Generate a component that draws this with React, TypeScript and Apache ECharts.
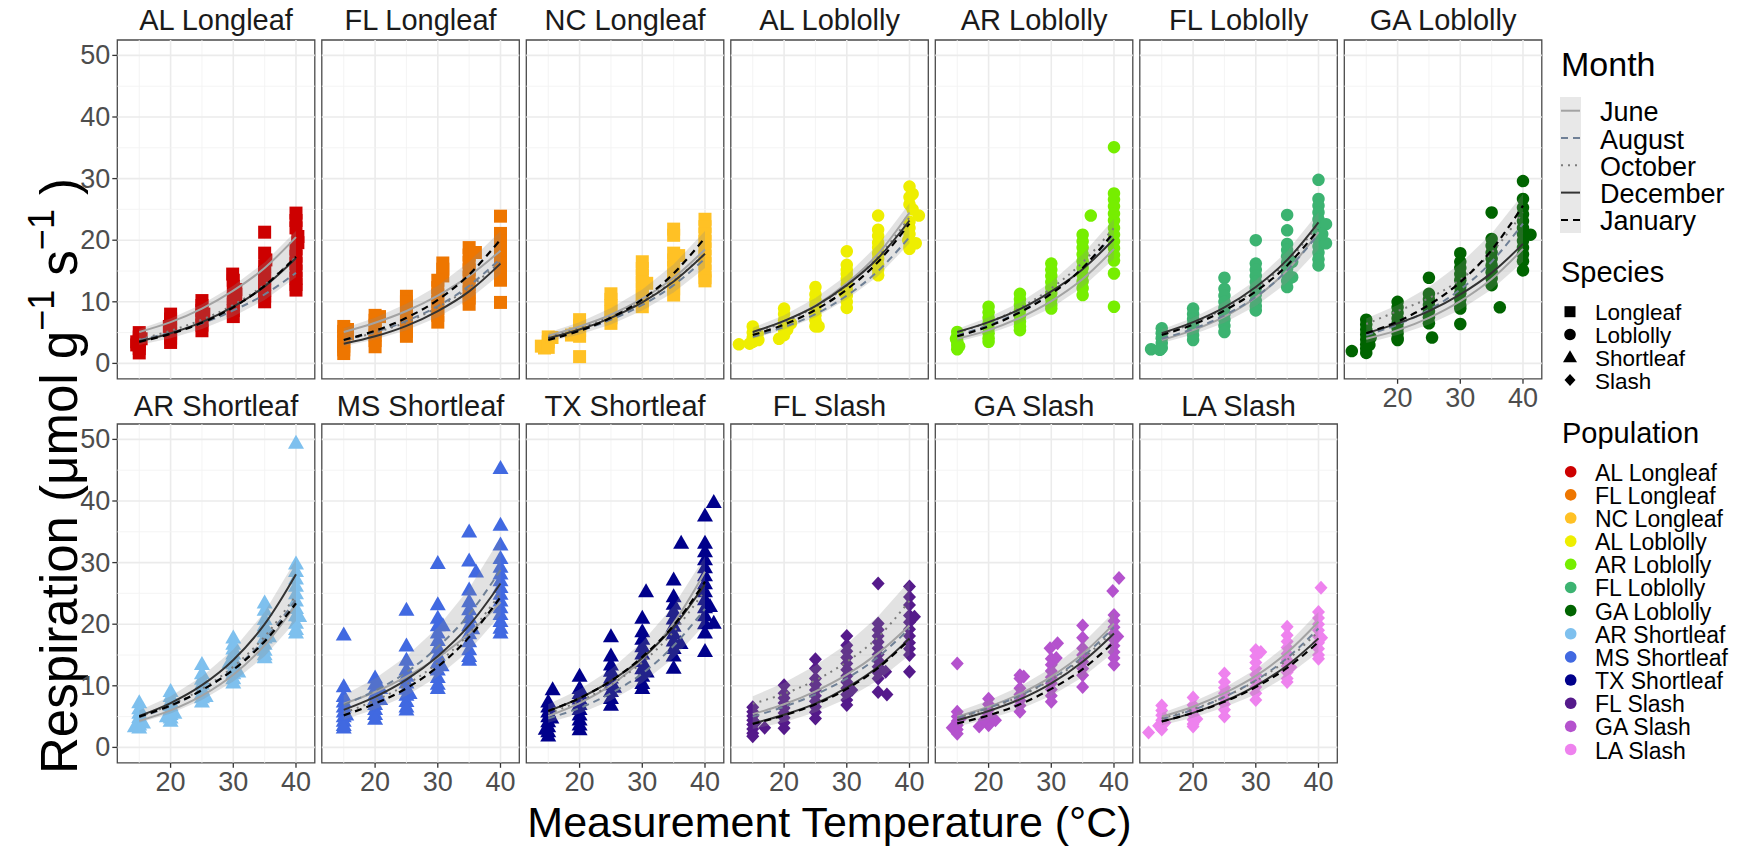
import React, { useEffect, useRef } from "react";
import * as echarts from "echarts";

// ---------- data ----------
const PANELS = [
  "AL Longleaf", "FL Longleaf", "NC Longleaf", "AL Loblolly", "AR Loblolly", "FL Loblolly", "GA Loblolly",
  "AR Shortleaf", "MS Shortleaf", "TX Shortleaf", "FL Slash", "GA Slash", "LA Slash",
];
const SPECIES = ["Longleaf", "Loblolly", "Shortleaf", "Slash"];
const PANEL_SPECIES = [0, 0, 0, 1, 1, 1, 1, 2, 2, 2, 3, 3, 3];
const POP_COLORS = [
  "#CD0000", "#EE7600", "#FFC125", "#EEEE00", "#76EE00", "#3CB371", "#006400",
  "#7EC0EE", "#4169E1", "#00008B", "#551A8B", "#B452CD", "#EE82EE",
];
const MONTHS = ["June", "August", "October", "December", "January"];
const CURVE_T = [15, 20, 25, 30, 35, 40];
const X_MAJOR = [20, 30, 40];
const X_MINOR = [15, 25, 35];
const Y_MAJOR = [0, 10, 20, 30, 40, 50];
const Y_MINOR = [5, 15, 25, 35, 45];

// measured points: [temperature (jittered), list of respiration values]
const AL_LONGLEAF = [
  [15, [5.0, 4.3, 3.6, 3.0, 2.4, 1.7]], [14.6, [3.5, 3.0]], [15.3, [4.0]],
  [20, [8.0, 7.2, 6.4, 5.6, 4.9, 4.1, 3.4]], [19.8, [6.0]],
  [25, [10.2, 9.4, 8.6, 7.8, 7.0, 6.2, 5.3]], [25.3, [8.0]],
  [30, [13.5, 12.5, 10.5, 9.6, 8.6, 7.6]], [29.9, [14.5]], [30.4, [12.0, 11.2]],
  [35, [21.3, 17.9, 15.8, 14.8, 13.8, 12.8, 11.8, 10.9, 10.0]], [35.2, [16.8]],
  [40, [24.4, 23.2, 22.0, 18.6, 17.4, 16.2, 15.0, 13.8, 12.8, 11.9]], [40.3, [20.6, 19.6]],
];
const FL_LONGLEAF = [
  [15, [6.0, 5.2, 4.4, 3.6, 2.8, 2.2, 1.6]], [15.6, [5.5, 4.8]],
  [20, [7.8, 7.0, 6.2, 5.4, 4.6, 3.7, 2.7]], [20.7, [7.6]],
  [25, [10.9, 10.0, 9.0, 8.0, 7.0, 6.0, 5.2, 4.4]],
  [30.8, [16.3, 15.3, 14.2]], [30, [13.5, 12.3, 11.1, 10.0, 8.9, 7.8, 6.7]],
  [35, [18.8, 17.6, 16.4, 15.2, 14.0, 12.8, 11.6, 10.6, 9.6]], [36, [18.0]],
  [40, [23.9, 21.1, 19.9, 18.7, 17.5, 16.3, 15.1, 14.0, 13.5, 9.9]],
];
const NC_LONGLEAF = [
  [13.9, [2.8]], [14.4, [2.5]], [15, [4.3, 3.5, 2.6]], [15.6, [4.2]],
  [20, [7.1, 6.2, 5.3, 4.4, 1.1]], [18.7, [4.6]], [19.3, [4.8]],
  [25, [11.3, 10.4, 9.4, 8.4, 7.4, 6.5]],
  [30, [16.5, 15.4, 14.3, 13.2, 12.1, 11.0, 10.0, 9.2]], [30.7, [13.0]],
  [35, [21.8, 20.8, 17.9, 16.8, 15.6, 14.4, 13.2, 12.1, 11.1]], [35.8, [17.5]],
  [40, [23.4, 22.2, 21.0, 19.8, 18.6, 17.4, 16.2, 15.0, 13.9, 13.4]],
];
const AL_LOBLOLLY = [
  [12.8, [3.1]], [15, [6.0, 5.0, 4.2, 3.5]], [15.9, [3.8]], [15.8, [4.8]], [14.5, [3.2]],
  [20, [8.9, 8.0, 7.0, 6.2, 5.4, 4.6]], [19.2, [4.0]], [21.1, [6.5]], [20.5, [5.5]],
  [25, [12.4, 11.2, 10.3, 9.5, 8.6, 7.8, 7.0, 6.0]], [25.5, [6.0]],
  [30, [18.2, 16.0, 15.2, 14.5, 13.7, 12.8, 12.0, 11.0, 10.0, 9.0]], [29.6, [11.5]],
  [35, [24.0, 21.7, 20.7, 19.6, 18.8, 17.9, 17.0, 16.0, 15.2, 14.3]],
  [40, [28.7, 27.0, 25.8, 23.0, 22.0, 21.0, 19.0, 18.6]], [40.5, [25.0, 27.5]], [41.5, [24.0]], [39.8, [20.0]], [41, [19.5]],
];
const AR_LOBLOLLY = [
  [15, [5.1, 4.3, 3.6, 3.0, 2.3]], [15.3, [2.8]], [14.8, [4.0]],
  [20, [9.2, 8.3, 7.4, 6.5, 5.7, 4.9, 4.1, 3.5]],
  [25, [11.3, 10.4, 9.5, 8.6, 7.7, 6.8, 6.0, 5.4]],
  [30, [16.2, 15.2, 14.2, 13.2, 12.3, 11.4, 10.4, 9.5, 8.9]],
  [36.3, [24.0]], [35, [20.9, 19.8, 18.8, 17.7, 16.6, 15.5, 14.4, 13.3, 12.2, 11.1]],
  [40, [35.1, 27.6, 26.6, 25.5, 24.3, 23.2, 22.0, 20.9, 19.8, 18.7, 17.6, 16.7, 14.6, 9.2]],
];
const FL_LOBLOLLY = [
  [13.3, [2.3]], [15, [5.7, 4.9, 4.1, 3.3, 2.5]], [14.7, [2.2]],
  [20, [8.9, 8.0, 7.2, 6.3, 5.5, 4.6, 3.8]],
  [25, [13.9, 12.1, 11.0, 10.0, 9.0, 8.0, 7.1, 6.1, 5.1]],
  [30, [20.0, 16.2, 15.2, 14.2, 13.2, 12.2, 11.2, 10.2, 9.3, 8.6]],
  [35, [24.1, 21.6, 19.4, 18.4, 17.4, 16.4, 15.4, 14.4, 13.4, 12.4]], [35.8, [14.0, 16.5]],
  [40, [29.8, 26.7, 25.6, 24.5, 23.4, 22.3, 21.2, 20.1, 19.0, 18.0, 16.9, 15.9]], [41.2, [22.6, 19.5]], [40.6, [21.0]],
];
const GA_LOBLOLLY = [
  [12.7, [2.0]], [15, [7.1, 6.3, 5.5, 4.7, 3.9, 3.1, 2.4, 1.7]], [15.7, [4.2]], [15.5, [3.0]],
  [20, [10.0, 9.1, 8.2, 7.3, 6.5, 5.7, 4.9, 4.1, 3.8]],
  [25, [13.9, 11.3, 10.4, 9.5, 8.5, 7.5, 6.5]], [25.5, [4.2]],
  [30, [17.9, 16.5, 15.5, 14.5, 13.5, 12.4, 11.4, 10.4, 9.4, 8.9, 6.4]],
  [35, [24.5, 20.2, 19.1, 18.0, 17.0, 15.9, 14.8, 13.8, 12.7]], [36.3, [9.1]],
  [40, [29.6, 26.7, 25.3, 24.2, 23.1, 22.0, 21.0, 19.9, 18.8, 17.7, 16.6, 15.1]], [41.2, [20.9]],
];
const AR_SHORTLEAF = [
  [15, [7.5, 6.5, 5.8, 5.1, 4.5, 3.9, 3.4]], [14.3, [3.6]], [15.6, [4.2]],
  [20, [9.3, 8.5, 7.7, 7.0, 6.3, 5.6, 5.0, 4.5]], [19.4, [5.2]], [20.6, [5.8]],
  [25, [13.7, 12.2, 11.3, 10.5, 9.7, 9.0, 8.3, 7.6]], [25.6, [8.5]],
  [30, [18.0, 17.0, 16.2, 15.4, 14.6, 13.8, 13.0, 12.2, 11.4, 10.7]], [30.8, [12.5]], [29.4, [14.0]],
  [35, [23.7, 22.5, 21.0, 20.0, 19.0, 18.0, 17.0, 16.0, 15.3, 14.8]], [35.7, [18.2]],
  [40, [49.6, 30.0, 28.8, 27.6, 26.4, 25.2, 24.0, 22.8, 21.6, 20.4, 19.4, 18.8]], [40.5, [21.5]],
];
const MS_SHORTLEAF = [
  [15, [18.5, 10.1, 8.5, 7.6, 6.8, 6.0, 5.2, 4.5, 3.8, 3.4]], [15.4, [5.5]],
  [20, [11.5, 10.5, 9.6, 8.8, 8.0, 7.2, 6.4, 5.6, 4.8]], [20.8, [9.8, 8.0]],
  [25, [22.5, 16.7, 14.4, 12.8, 11.8, 10.7, 9.7, 8.7, 7.7, 6.8, 6.3]], [25.5, [9.0]],
  [30, [30.1, 23.4, 21.2, 20.0, 18.8, 17.6, 16.4, 15.2, 14.0, 12.8, 11.6, 10.5, 9.8]], [30.8, [20.0]], [30.6, [13.5]],
  [35, [35.2, 30.5, 25.8, 23.9, 22.6, 21.3, 20.0, 18.7, 17.4, 16.1, 15.0, 14.4]], [36.1, [28.7]], [35.5, [19.5]],
  [40, [45.5, 36.3, 33.1, 30.9, 29.5, 28.4, 27.3, 26.2, 25.1, 24.0, 22.9, 21.8, 20.7, 19.6, 18.8]],
];
const TX_SHORTLEAF = [
  [15.7, [9.6]], [15, [7.6, 6.8, 6.0, 5.2, 4.4, 3.6, 2.8, 2.1]], [15.5, [5.0]], [14.6, [3.2]],
  [20, [11.8, 9.8, 9.0, 8.1, 7.2, 6.4, 5.5, 4.7, 3.9, 3.1]],
  [25, [18.2, 15.1, 13.6, 12.6, 11.5, 10.4, 9.3, 8.2, 7.1]], [25.5, [10.0]],
  [30.6, [25.5]], [30, [21.2, 19.0, 17.8, 16.6, 15.4, 14.2, 13.0, 11.8, 10.6, 9.8]], [30.7, [12.5]],
  [36.2, [33.4]], [35, [27.4, 24.7, 23.5, 22.3, 21.1, 19.9, 18.7, 17.5, 16.3, 15.1, 13.1]], [36.1, [17.1]],
  [41.4, [40.0, 20.4]], [40, [37.8, 33.4, 32.0, 30.7, 29.4, 28.1, 26.8, 25.5, 24.2, 22.9, 21.6, 20.3, 18.8, 15.8]], [40.8, [23.1]],
];
const FL_SLASH = [
  [15, [6.5, 5.8, 5.1, 4.4, 3.7, 3.0, 2.3, 1.8]], [16.9, [3.2]], [15.4, [4.0]],
  [20, [10.1, 8.8, 8.0, 7.2, 6.4, 5.6, 4.8, 4.0, 3.1]],
  [25, [14.3, 12.8, 11.2, 10.2, 9.3, 8.4, 7.5, 6.6, 5.7, 4.7]],
  [30, [18.1, 16.6, 15.6, 14.6, 13.6, 12.6, 11.6, 10.6, 9.6, 8.6, 7.7, 6.9]], [30.8, [9.3]],
  [35, [26.6, 20.1, 19.1, 18.1, 17.1, 16.1, 15.1, 14.1, 13.1, 12.1, 11.2, 9.0]], [36.4, [8.6]], [36.2, [12.3]],
  [40, [26.1, 24.4, 23.1, 21.4, 20.3, 19.2, 18.1, 17.0, 16.0, 15.0, 12.3]], [40.8, [21.2]],
];
const GA_SLASH = [
  [15, [13.6, 5.8, 5.0, 4.3, 3.6, 2.9, 2.2]], [14.2, [3.2]], [15.5, [4.6]],
  [20, [7.9, 7.0, 6.1, 5.2, 4.4, 3.6]], [18.5, [3.4]], [21.1, [4.4]], [19.3, [4.5]],
  [25, [11.7, 11.2, 9.6, 8.6, 7.6, 6.8, 5.8]], [25.6, [11.5]],
  [29.8, [16.1]], [31.0, [16.9]], [30, [14.4, 13.4, 12.4, 11.4, 10.4, 9.4, 8.4, 7.4]], [30.8, [14.5]],
  [35, [19.8, 17.8, 16.1, 15.0, 13.9, 12.8, 11.7, 9.8]],
  [40.8, [27.5]], [39.8, [25.4]], [40, [21.5, 20.5, 19.5, 18.5, 17.5, 16.5, 15.5, 14.5, 13.4]], [40.6, [18.0]],
];
const LA_SLASH = [
  [12.9, [2.4]], [15, [6.8, 6.0, 5.2, 4.4, 3.6, 2.9]], [14.5, [3.5]], [15.5, [4.0]],
  [20, [8.1, 6.9, 6.1, 5.3, 4.5, 3.8, 3.4]], [20.6, [4.6]],
  [25, [12.0, 10.6, 9.7, 8.8, 7.9, 7.0, 6.1, 5.0]],
  [30, [15.8, 14.8, 13.8, 12.8, 11.8, 10.8, 9.8, 8.8, 7.7]], [30.8, [15.5]],
  [35, [19.6, 18.2, 17.2, 16.2, 15.2, 14.2, 13.2, 12.2, 11.2, 10.6]], [35.6, [13.0]],
  [40.4, [25.9]], [40, [22.0, 21.0, 20.0, 19.0, 18.0, 17.0, 16.0, 15.0, 14.4]], [40.5, [17.8]],
];
const POINTS = [
  AL_LONGLEAF, FL_LONGLEAF, NC_LONGLEAF, AL_LOBLOLLY, AR_LOBLOLLY, FL_LOBLOLLY, GA_LOBLOLLY,
  AR_SHORTLEAF, MS_SHORTLEAF, TX_SHORTLEAF, FL_SLASH, GA_SLASH, LA_SLASH,
];

// fitted curves read at CURVE_T, per panel, in MONTHS order
const CURVES = [
  [[5.1, 6.7, 8.9, 11.8, 15.5, 20.5], [3.8, 5.0, 6.5, 8.6, 11.2, 14.7], [3.9, 5.3, 7.1, 9.5, 12.8, 17.3], [3.6, 4.9, 6.7, 9.2, 12.5, 17.1], [3.5, 4.8, 6.6, 9.1, 12.6, 17.3]],
  [[5.1, 6.6, 8.5, 11.0, 14.2, 18.3], [3.8, 5.1, 6.9, 9.3, 12.6, 17.0], [3.7, 5.0, 6.7, 9.1, 12.3, 16.5], [3.2, 4.4, 6.1, 8.5, 11.7, 16.2], [3.8, 5.3, 7.4, 10.3, 14.4, 20.1]],
  [[4.5, 6.0, 7.9, 10.5, 13.9, 18.5], [4.0, 5.3, 7.1, 9.5, 12.7, 17.0], [4.3, 5.7, 7.6, 10.1, 13.4, 17.8], [4.1, 5.5, 7.4, 9.9, 13.3, 17.8], [3.8, 5.3, 7.4, 10.4, 14.6, 20.4]],
  [[5.0, 6.9, 9.4, 13.0, 17.8, 24.5], [4.3, 5.9, 8.0, 11.0, 15.0, 20.5], [4.9, 6.7, 9.2, 12.6, 17.3, 23.7], [5.1, 6.9, 9.3, 12.7, 17.1, 23.2], [4.6, 6.3, 8.7, 12.0, 16.5, 22.7]],
  [[4.0, 5.4, 7.4, 10.1, 13.7, 18.6], [4.6, 6.2, 8.4, 11.4, 15.5, 21.0], [5.0, 6.7, 9.0, 12.2, 16.4, 22.0], [5.1, 6.7, 8.8, 11.7, 15.3, 20.2], [4.4, 6.0, 8.3, 11.3, 15.5, 21.3]],
  [[3.8, 5.4, 7.6, 10.7, 15.1, 21.3], [4.0, 5.6, 7.8, 10.8, 15.1, 21.0], [4.8, 6.5, 8.9, 12.1, 16.5, 22.5], [4.9, 6.7, 9.1, 12.4, 16.8, 22.9], [4.6, 6.3, 8.6, 11.7, 15.9, 21.7]],
  [[4.0, 5.4, 7.4, 10.1, 13.7, 18.6], [4.6, 6.3, 8.7, 12.0, 16.5, 22.7], [6.4, 8.5, 10.6, 13.6, 18.0, 24.5], [4.9, 6.5, 8.5, 11.2, 14.7, 19.4], [4.9, 6.8, 9.5, 13.2, 18.4, 25.6]],
  [[4.3, 6.0, 8.4, 11.8, 16.6, 23.2], [4.9, 6.7, 9.3, 12.7, 17.5, 24.0], [5.0, 6.9, 9.5, 13.1, 18.0, 24.7], [5.1, 7.2, 10.1, 14.2, 20.0, 28.1], [5.0, 6.8, 9.3, 12.6, 17.2, 23.4]],
  [[7.1, 9.0, 11.5, 14.6, 18.5, 23.6], [6.9, 9.2, 12.2, 16.3, 21.6, 28.8], [5.6, 7.6, 10.2, 13.7, 18.5, 25.0], [6.1, 8.2, 11.0, 14.8, 19.8, 26.6], [5.2, 7.1, 9.6, 13.1, 17.9, 24.4]],
  [[5.1, 7.2, 10.1, 14.3, 20.2, 28.5], [4.7, 6.4, 8.8, 12.0, 16.5, 22.5], [5.5, 7.5, 10.2, 13.8, 18.8, 25.5], [5.9, 8.0, 10.8, 14.5, 19.6, 26.5], [5.9, 8.0, 10.8, 14.7, 19.8, 26.9]],
  [[5.4, 7.0, 9.1, 11.8, 15.3, 19.8], [5.0, 6.6, 8.6, 11.2, 14.7, 19.3], [7.1, 8.7, 10.9, 13.9, 17.9, 23.8], [3.9, 5.3, 7.1, 9.7, 13.1, 17.7], [3.8, 5.2, 7.0, 9.5, 12.9, 17.5]],
  [[5.0, 6.6, 8.7, 11.5, 15.2, 20.1], [4.8, 6.4, 8.4, 11.1, 14.7, 19.5], [4.8, 6.3, 8.3, 11.0, 14.4, 19.0], [4.4, 5.9, 7.8, 10.4, 13.9, 18.5], [3.9, 5.2, 7.0, 9.5, 12.7, 17.1]],
  [[5.0, 6.6, 8.8, 11.6, 15.4, 20.4], [4.6, 6.1, 8.2, 10.9, 14.5, 19.3], [4.7, 6.2, 8.2, 10.8, 14.2, 18.8], [4.2, 5.6, 7.5, 10.0, 13.3, 17.7], [4.2, 5.6, 7.4, 9.8, 12.9, 17.1]],
];
// confidence ribbon envelope per panel at CURVE_T
const BAND_LO = [
  [3.0, 4.1, 5.6, 7.6, 10.3, 14.0], [2.8, 3.9, 5.4, 7.5, 10.4, 14.5], [3.5, 4.7, 6.3, 8.6, 11.5, 15.5],
  [4.0, 5.5, 7.5, 10.4, 14.2, 19.5], [3.5, 4.8, 6.6, 9.0, 12.4, 17.0], [3.3, 4.7, 6.6, 9.3, 13.1, 18.5],
  [3.3, 4.6, 6.3, 8.7, 12.0, 16.5], [4.0, 5.5, 7.7, 10.7, 14.8, 20.5], [4.5, 6.2, 8.4, 11.5, 15.7, 21.5],
  [4.0, 5.5, 7.6, 10.5, 14.5, 20.0], [3.0, 4.1, 5.7, 7.9, 10.9, 15.0], [3.4, 4.6, 6.2, 8.4, 11.4, 15.5],
  [3.6, 4.8, 6.5, 8.6, 11.6, 15.5],
];
const BAND_HI = [
  [5.6, 7.3, 9.6, 12.6, 16.4, 21.5], [5.7, 7.4, 9.7, 12.6, 16.5, 21.5], [5.0, 6.7, 9.0, 12.0, 16.1, 21.5],
  [5.8, 7.8, 10.6, 14.3, 19.3, 26.0], [5.6, 7.5, 9.9, 13.2, 17.7, 23.5], [5.5, 7.4, 10.0, 13.5, 18.2, 24.5],
  [7.3, 9.5, 12.4, 16.2, 21.1, 27.5], [6.0, 8.3, 11.5, 15.9, 22.0, 30.5], [8.5, 11.2, 14.8, 19.5, 25.8, 34.0],
  [7.0, 9.4, 12.7, 17.1, 23.0, 31.0], [8.3, 10.5, 13.3, 16.8, 21.3, 27.0], [5.8, 7.6, 9.9, 12.9, 16.9, 22.0],
  [5.6, 7.4, 9.7, 12.7, 16.7, 22.0],
];

// ---------- styling / layout ----------
const FONT = '"Liberation Sans", Arial, Helvetica, sans-serif';
const X_MIN = 11.5, X_MAX = 43, X_INT = 0.5;
const Y_MIN = -2.5, Y_MAX = 52.5, Y_INT = 2.5;
const GRID_LEFT0 = 117.3, GRID_STEP = 204.5, GRID_W = 197.5, GRID_H = 338.8;
const ROW_TOP = [40, 424];
const TITLE_Y = [20, 406];

const MONTH_STYLES = [
  { color: "#a3a3a3", width: 2, type: "solid" },
  { color: "#6f8096", width: 2, type: [7, 5] },
  { color: "#7c7c7c", width: 2, type: [2, 5] },
  { color: "#333333", width: 2, type: "solid" },
  { color: "#000000", width: 2.2, type: [7, 5] },
];
const SYMBOLS = ["rect", "circle", "triangle", "diamond"];
const SYMBOL_SIZES: any[] = [13, 12.5, [16, 14], [13, 14]];

function expand(groups: any[]) {
  const out: number[][] = [];
  for (const [x, ys] of groups) for (const y of ys) out.push([x, y]);
  return out;
}

function panelPos(i: number) {
  const r = i < 7 ? 0 : 1;
  const c = i < 7 ? i : i - 7;
  return { r, c, left: GRID_LEFT0 + GRID_STEP * c, top: ROW_TOP[r] };
}

function buildOption() {
  const grid: any[] = [], xAxis: any[] = [], yAxis: any[] = [], series: any[] = [], graphic: any[] = [];
  const gridData: number[][] = [
    ...X_MINOR.map((v) => [0, v, 0]), ...X_MAJOR.map((v) => [0, v, 1]),
    ...Y_MINOR.map((v) => [1, v, 0]), ...Y_MAJOR.map((v) => [1, v, 1]),
  ];

  PANELS.forEach((name, i) => {
    const { r, c, left, top } = panelPos(i);
    const showX = r === 1 || i === 6;
    const showY = c === 0;
    grid.push({ left, top, width: GRID_W, height: GRID_H, show: true, backgroundColor: "#ffffff", borderColor: "#4a4a4a", borderWidth: 1.3, containLabel: false });
    xAxis.push({
      gridIndex: i, type: "value", min: X_MIN, max: X_MAX, interval: X_INT,
      axisLine: { show: false }, axisTick: { show: false }, splitLine: { show: false },
      axisLabel: {
        show: showX, color: "#4d4d4d", fontSize: 27, fontFamily: FONT, margin: 6,
        formatter: (v: number) => (X_MAJOR.some((m) => Math.abs(m - v) < 1e-6) ? String(Math.round(v)) : ""),
      },
    });
    yAxis.push({
      gridIndex: i, type: "value", min: Y_MIN, max: Y_MAX, interval: Y_INT,
      axisLine: { show: false }, axisTick: { show: false }, splitLine: { show: false },
      axisLabel: {
        show: showY, color: "#4d4d4d", fontSize: 27, fontFamily: FONT, margin: 7,
        formatter: (v: number) => (Y_MAJOR.some((m) => Math.abs(m - v) < 1e-6) ? String(Math.round(v)) : ""),
      },
    });

    // grid lines + ticks
    series.push({
      type: "custom", xAxisIndex: i, yAxisIndex: i, data: gridData, silent: true, z: 1, clip: false,
      renderItem: (_p: any, api: any) => {
        const kind = api.value(0), v = api.value(1), major = api.value(2) === 1;
        const stroke = major ? "#ebebeb" : "#f3f3f3";
        const lw = major ? 1.6 : 0.9;
        const children: any[] = [];
        if (kind === 0) {
          const a = api.coord([v, Y_MIN]), b = api.coord([v, Y_MAX]);
          children.push({ type: "line", shape: { x1: a[0], y1: a[1], x2: b[0], y2: b[1] }, style: { stroke, lineWidth: lw } });
          if (major && showX) children.push({ type: "line", shape: { x1: a[0], y1: a[1], x2: a[0], y2: a[1] + 5 }, style: { stroke: "#333333", lineWidth: 1.3 } });
        } else {
          const a = api.coord([X_MIN, v]), b = api.coord([X_MAX, v]);
          children.push({ type: "line", shape: { x1: a[0], y1: a[1], x2: b[0], y2: b[1] }, style: { stroke, lineWidth: lw } });
          if (major && showY) children.push({ type: "line", shape: { x1: a[0] - 5, y1: a[1], x2: a[0], y2: a[1] }, style: { stroke: "#333333", lineWidth: 1.3 } });
        }
        return { type: "group", children };
      },
    });

    // points
    const sp = PANEL_SPECIES[i];
    series.push({
      type: "scatter", name: name, xAxisIndex: i, yAxisIndex: i, data: expand(POINTS[i]),
      symbol: SYMBOLS[sp], symbolSize: SYMBOL_SIZES[sp], itemStyle: { color: POP_COLORS[i], opacity: 1 }, z: 2, silent: true,
    });

    // ribbon
    series.push({
      type: "custom", xAxisIndex: i, yAxisIndex: i, data: [[CURVE_T[0], BAND_LO[i][0]]], silent: true, z: 3,
      renderItem: (_p: any, api: any) => {
        const up = CURVE_T.map((t, k) => api.coord([t, BAND_HI[i][k]]));
        const lo = CURVE_T.map((t, k) => api.coord([t, BAND_LO[i][k]])).reverse();
        return { type: "polygon", shape: { points: up.concat(lo) }, style: { fill: "rgba(140,140,140,0.25)" } };
      },
    });

    // fitted curves
    MONTHS.forEach((m, k) => {
      const st = MONTH_STYLES[k];
      series.push({
        type: "line", name: m, xAxisIndex: i, yAxisIndex: i, silent: true, z: 4 + (k === 4 ? 1 : 0),
        data: CURVE_T.map((t, j) => [t, CURVES[i][k][j]]), showSymbol: false, symbol: "none", smooth: 0.35,
        lineStyle: { color: st.color, width: st.width, type: st.type },
      });
    });

    graphic.push({
      type: "text", x: left + GRID_W / 2, y: TITLE_Y[r],
      style: { text: name, fontSize: 29, fontFamily: FONT, fill: "#1a1a1a", align: "center", verticalAlign: "middle" },
    });
  });

  // axis titles
  graphic.push({
    type: "text", x: 829.5, y: 822,
    style: { text: "Measurement Temperature (°C)", fontSize: 43, fontFamily: FONT, fill: "#000", align: "center", verticalAlign: "middle" },
  });
  graphic.push({
    type: "text", x: 54, y: 476, rotation: Math.PI / 2,
    style: {
      text: "{a|Respiration (μmol g}{s|−1}{a| s}{s|−1}{a| )}",
      rich: {
        a: { fontSize: 51, fontFamily: FONT, fill: "#000", lineHeight: 62, verticalAlign: "bottom" },
        s: { fontSize: 36, fontFamily: FONT, fill: "#000", lineHeight: 62, verticalAlign: "top" },
      },
      align: "center", verticalAlign: "middle",
    },
  });

  // legend: Month
  graphic.push({ type: "text", x: 1561, y: 64, style: { text: "Month", fontSize: 34, fontFamily: FONT, fill: "#000", verticalAlign: "middle" } });
  graphic.push({ type: "rect", shape: { x: 1560, y: 97, width: 21, height: 136 }, style: { fill: "#e8e8e8" } });
  MONTHS.forEach((m, k) => {
    const y = 110.7 + 27.3 * k;
    const st = MONTH_STYLES[k];
    graphic.push({ type: "line", shape: { x1: 1561, y1: y, x2: 1580, y2: y }, style: { stroke: st.color, lineWidth: 2, lineDash: st.type === "solid" ? null : st.type } });
    graphic.push({ type: "text", x: 1600, y: y + 1.5, style: { text: m, fontSize: 27, lineHeight: 27, fontFamily: FONT, fill: "#000", verticalAlign: "middle" } });
  });

  // legend: Species
  graphic.push({ type: "text", x: 1561, y: 272, style: { text: "Species", fontSize: 29, fontFamily: FONT, fill: "#000", verticalAlign: "middle" } });
  SPECIES.forEach((s, k) => {
    const cy = 311.7 + 22.8 * k, cx = 1570;
    let el: any;
    if (k === 0) el = { type: "rect", shape: { x: cx - 5.5, y: cy - 5.5, width: 11, height: 11 }, style: { fill: "#000" } };
    else if (k === 1) el = { type: "circle", shape: { cx, cy, r: 5.8 }, style: { fill: "#000" } };
    else if (k === 2) el = { type: "polygon", shape: { points: [[cx, cy - 7], [cx + 7, cy + 5], [cx - 7, cy + 5]] }, style: { fill: "#000" } };
    else el = { type: "polygon", shape: { points: [[cx, cy - 6], [cx + 5.5, cy], [cx, cy + 6], [cx - 5.5, cy]] }, style: { fill: "#000" } };
    graphic.push(el);
    graphic.push({ type: "text", x: 1595, y: cy + 1, style: { text: s, fontSize: 22.5, lineHeight: 22, fontFamily: FONT, fill: "#000", verticalAlign: "middle" } });
  });

  // legend: Population
  graphic.push({ type: "text", x: 1562, y: 433, style: { text: "Population", fontSize: 29, fontFamily: FONT, fill: "#000", verticalAlign: "middle" } });
  PANELS.forEach((p, k) => {
    const cy = 471.7 + 23.15 * k;
    graphic.push({ type: "circle", shape: { cx: 1570.7, cy, r: 5.8 }, style: { fill: POP_COLORS[k] } });
    graphic.push({ type: "text", x: 1595, y: cy + 1, style: { text: p, fontSize: 23, lineHeight: 23, fontFamily: FONT, fill: "#000", verticalAlign: "middle" } });
  });

  return { animation: false, backgroundColor: "#ffffff", grid, xAxis, yAxis, series, graphic };
}

export default function App() {
  const ref = useRef<HTMLDivElement>(null);
  useEffect(() => {
    document.body.style.margin = "0";
    const chart = echarts.init(ref.current as HTMLDivElement, null, { renderer: "svg" });
    chart.setOption(buildOption() as any);
    return () => chart.dispose();
  }, []);
  return <div ref={ref} style={{ width: 1753, height: 849, background: "#fff" }} />;
}
